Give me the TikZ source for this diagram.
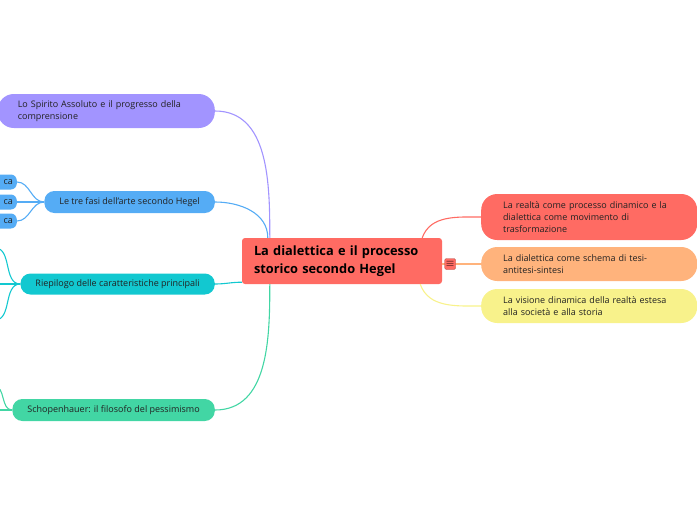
\documentclass[tikz,border=0pt]{standalone}
\usepackage{fontspec}
\setmainfont{Open Sans}
\definecolor{rouge}{HTML}{FF6B63}
\definecolor{orange}{HTML}{FFB37C}
\definecolor{jaune}{HTML}{F8F28B}
\definecolor{violet}{HTML}{A294FF}
\definecolor{bleu}{HTML}{55ACF5}
\definecolor{cyan}{HTML}{12C8D0}
\definecolor{vert}{HTML}{42D6A4}
\definecolor{texte}{HTML}{222222}
\begin{document}
\begin{tikzpicture}[
    x=1pt, y=-1pt, % coordonnées en pixels, y vers le bas
    every node/.style={font=\fontsize{9}{12}\selectfont, text=texte},
    bulle/.style={rounded corners=16pt, inner xsep=22pt, inner ysep=5pt, align=left, text width=172pt, minimum height=34pt},
    branche/.style={rounded corners=10pt, inner xsep=15pt, inner ysep=0pt, minimum height=22pt},
    feuille/.style={rounded corners=6pt, inner xsep=4pt, inner ysep=0pt, minimum height=15pt, text width=22pt, align=right},
    lien/.style={line width=1.1pt} % épaisseur des branches
]
\useasboundingbox (0,0) rectangle (697,520);
\clip (0,0) rectangle (697,520);

% Centre
\node[fill=rouge, rounded corners=3pt, text width=176pt, inner xsep=12pt, minimum height=46pt, align=left,
      font=\fontsize{12.8}{18.5}\selectfont\bfseries, text=black] (centre) at (342,261)
    {La dialettica e il processo\\storico secondo Hegel};

% Droite
\node[bulle, fill=rouge, anchor=west, minimum height=46pt] (realta) at (481,217)
    {La realtà come processo dinamico e la\\dialettica come movimento di\\trasformazione};
\node[bulle, fill=orange, anchor=west] (schema) at (481,264)
    {La dialettica come schema di tesi-\\antitesi-sintesi};
\node[bulle, fill=jaune, anchor=west] (visione) at (481,306)
    {La visione dinamica della realtà estesa\\alla società e alla storia};

% Gauche
\node[bulle, fill=violet, anchor=east, text width=177pt, inner xsep=20pt] (spirito) at (215,111)
    {Lo Spirito Assoluto e il progresso della\\comprensione};
\node[branche, fill=bleu, anchor=east] (fasi) at (215,202) {Le tre fasi dell'arte secondo Hegel};
\node[branche, fill=cyan, anchor=east, minimum height=21pt] (riepilogo) at (215,284) {Riepilogo delle caratteristiche principali};
\node[branche, fill=vert, anchor=east] (schopenhauer) at (215,410) {Schopenhauer: il filosofo del pessimismo};

% Les trois fases (coupées au bord)
\node[feuille, fill=bleu, anchor=east] (fase1) at (17,182) {ca};
\node[feuille, fill=bleu, anchor=east] (fase2) at (17,202) {ca};
\node[feuille, fill=bleu, anchor=east] (fase3) at (17,221) {ca};

% Sous-branches hors cadre
\coordinate (riep1) at (-5,248);
\coordinate (riep2) at (-5,284);
\coordinate (riep3) at (-5,320);
\coordinate (schop1) at (-10,410);
\coordinate (schop2) at (-6,386);

% Liens
\draw[lien, violet] (spirito.east) to[out=0, in=90] ([xshift=28pt]centre.north west);
\draw[lien, bleu] (fasi.east) to[out=0, in=90] ([xshift=26pt]centre.north west);
\draw[lien, cyan] (riepilogo.east) to[out=0, in=180] ([yshift=2pt]centre.south west);
\draw[lien, vert] (schopenhauer.east) to[out=0, in=-90] ([xshift=28pt]centre.south west);
\draw[lien, rouge] ([xshift=-20pt]centre.north east) to[out=70, in=180] (realta.west);
\draw[lien, orange] (centre.east |- schema.west) -- (schema.west);
\draw[lien, jaune] ([xshift=-22pt]centre.south east) to[out=-70, in=180] (visione.west);

\draw[lien, bleu] (fasi.west) to[out=180, in=0] (fase1.east);
\draw[lien, bleu] (fasi.west) -- (fase2.east);
\draw[lien, bleu] (fasi.west) to[out=180, in=0] (fase3.east);
\draw[lien, cyan] (riepilogo.west) to[out=180, in=0] (riep1);
\draw[lien, cyan] (riepilogo.west) -- (riep2);
\draw[lien, cyan] (riepilogo.west) to[out=180, in=0] (riep3);
\draw[lien, vert] (schopenhauer.west) -- (schop1);
\draw[lien, vert] (schopenhauer.west) to[out=180, in=0] (schop2);

% Icône du menu
\coordinate (coin) at (centre.east |- schema.west);
\node[fill=rouge, draw=rouge!70!black, line width=0.4pt, rounded corners=1.5pt, minimum size=11pt, inner sep=0pt,
      font=\fontsize{11}{11}\selectfont, text=black] (menu) at ([xshift=8pt]coin) {$\equiv$};
\end{tikzpicture}
\end{document}
